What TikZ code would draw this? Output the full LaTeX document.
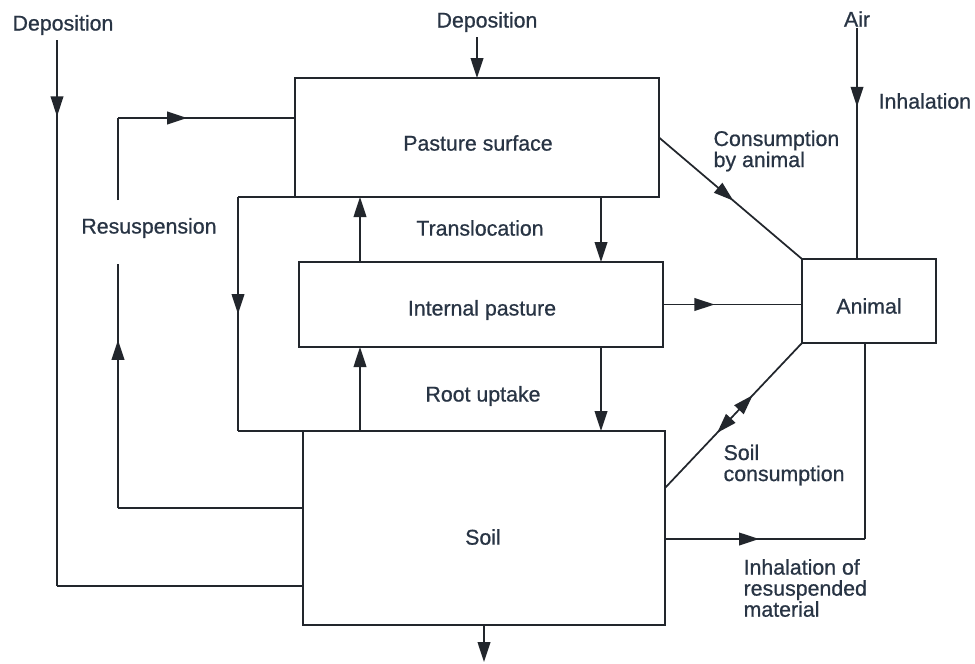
\documentclass[tikz,border=0pt]{standalone}
\usepackage{fontspec}
\setmainfont[FakeBold=0.7]{Liberation Sans}
\usetikzlibrary{arrows.meta,decorations.markings}
\definecolor{ink}{RGB}{34,38,44}
\definecolor{txt}{RGB}{40,52,68}
\newcommand{\lblfont}{\fontsize{16}{15.8}\selectfont}
\tikzset{
  box/.style={draw=ink, line width=1.3pt, inner sep=0pt, outer sep=0pt},
  lbl/.style={text=txt, font=\lblfont, inner sep=1pt, align=left},
  flow/.style={draw=ink, line width=1.3pt},
  endarrow/.style={-{Triangle[length=15pt,width=9.5pt]}},
  marr/.style={postaction={decorate}, decoration={markings, mark=at position #1 with {\arrow{Triangle[length=15pt,width=9.5pt]}}}},
  marrtwo/.style={postaction={decorate}, decoration={markings,
      mark=at position 0.38 with {\arrowreversed{Triangle[length=15pt,width=9.5pt]}},
      mark=at position 0.64 with {\arrow{Triangle[length=15pt,width=9.5pt]}}}}
}
\begin{document}
\begin{tikzpicture}[x=0.75pt,y=-0.75pt]
\useasboundingbox[fill=white] (0,0) rectangle (975,664);

% boxes
\node[box, minimum width=273pt, minimum height=89.25pt] (past) at (477,137.5) {};
\node[box, minimum width=273pt, minimum height=63.75pt] (int) at (481,304.5) {};
\node[box, minimum width=271.5pt, minimum height=145.5pt] (soil) at (484,528) {};
\node[box, minimum width=100.5pt, minimum height=63pt] (anim) at (869,301) {};

% box texts
\node[lbl] (pastt) at (478,143) {Pasture surface};
\node[lbl] (intt) at (482,310) {Internal pasture};
\node[lbl] (soilt) at (483,537) {Soil};
\node[lbl] (animt) at (869,306) {Animal};

% labels
\node[lbl] (dep1) at (63,25) {Deposition};
\node[lbl] (dep2) at (487,22) {Deposition};
\node[lbl] (air) at (857,19) {Air};
\node[lbl, anchor=west] (inh) at (877,101) {Inhalation};
\node[lbl] (resl) at (149,228) {Resuspension};
\node[lbl] (trl) at (480,228) {Translocation};
\node[lbl] (rul) at (483,396) {Root uptake};
\node[lbl, anchor=west] (cbl) at (712,151) {Consumption\\by animal};
\node[lbl, anchor=west] (scl) at (722,465) {Soil\\consumption};
\node[lbl, anchor=west] (irl) at (742,588) {Inhalation of\\resuspended\\material};

% left deposition
\coordinate (d1top) at (57,40);
\coordinate (d1bot) at (57,586);
\draw[flow, marr=0.14] (d1top) -- (d1bot);
\draw[flow] (d1bot) -- (d1bot -| soil.west);

% resuspension
\coordinate (r1) at (118,508);
\coordinate (r2) at (118,264);
\coordinate (r3) at (118,200);
\coordinate (r4) at (118,118);
\draw[flow] (r1 -| soil.west) -- (r1);
\draw[flow, marr=0.689] (r1) -- (r2);
\draw[flow] (r3) -- (r4);
\draw[flow, marr=0.39] (r4) -- (r4 -| past.west);

% pasture surface to soil loop
\coordinate (l1) at (238,197);
\coordinate (l2) at (238,431);
\draw[flow] (past.south west) -- (l1);
\draw[flow, marr=0.5] (l1) -- (l2);
\draw[flow] (l2) -- (soil.north west);

% top deposition
\coordinate (xD) at (477,37);
\draw[flow, endarrow] (xD) -- (xD |- past.north);

% translocation and root uptake
\coordinate (xU) at (360,0);
\coordinate (xDn) at (601,0);
\draw[flow, endarrow] (xU |- int.north) -- (xU |- past.south);
\draw[flow, endarrow] (xDn |- past.south) -- (xDn |- int.north);
\draw[flow, endarrow] (xU |- soil.north) -- (xU |- int.south);
\draw[flow, endarrow] (xDn |- int.south) -- (xDn |- soil.north);

% consumption by animal
\draw[flow, marr=0.52] (past.east) -- (anim.north west);
% internal to animal
\draw[flow, marr=0.37] (int.east) -- (int.east -| anim.west);
% soil consumption
\coordinate (ySC) at (0,488);
\draw[flow, marrtwo] (ySC -| soil.east) -- (anim.south west);
% air inhalation
\coordinate (xAir) at (857,0);
\draw[flow, marr=0.34] (air.south) -- (xAir |- anim.north);
% inhalation of resuspended material
\coordinate (ir) at (865,539);
\draw[flow, marr=0.47] (ir -| soil.east) -- (ir);
\draw[flow] (ir) -- (ir |- anim.south);
% bottom outflow
\coordinate (bot) at (484,662);
\draw[flow, endarrow] (soil.south) -- (bot);
\end{tikzpicture}
\end{document}
